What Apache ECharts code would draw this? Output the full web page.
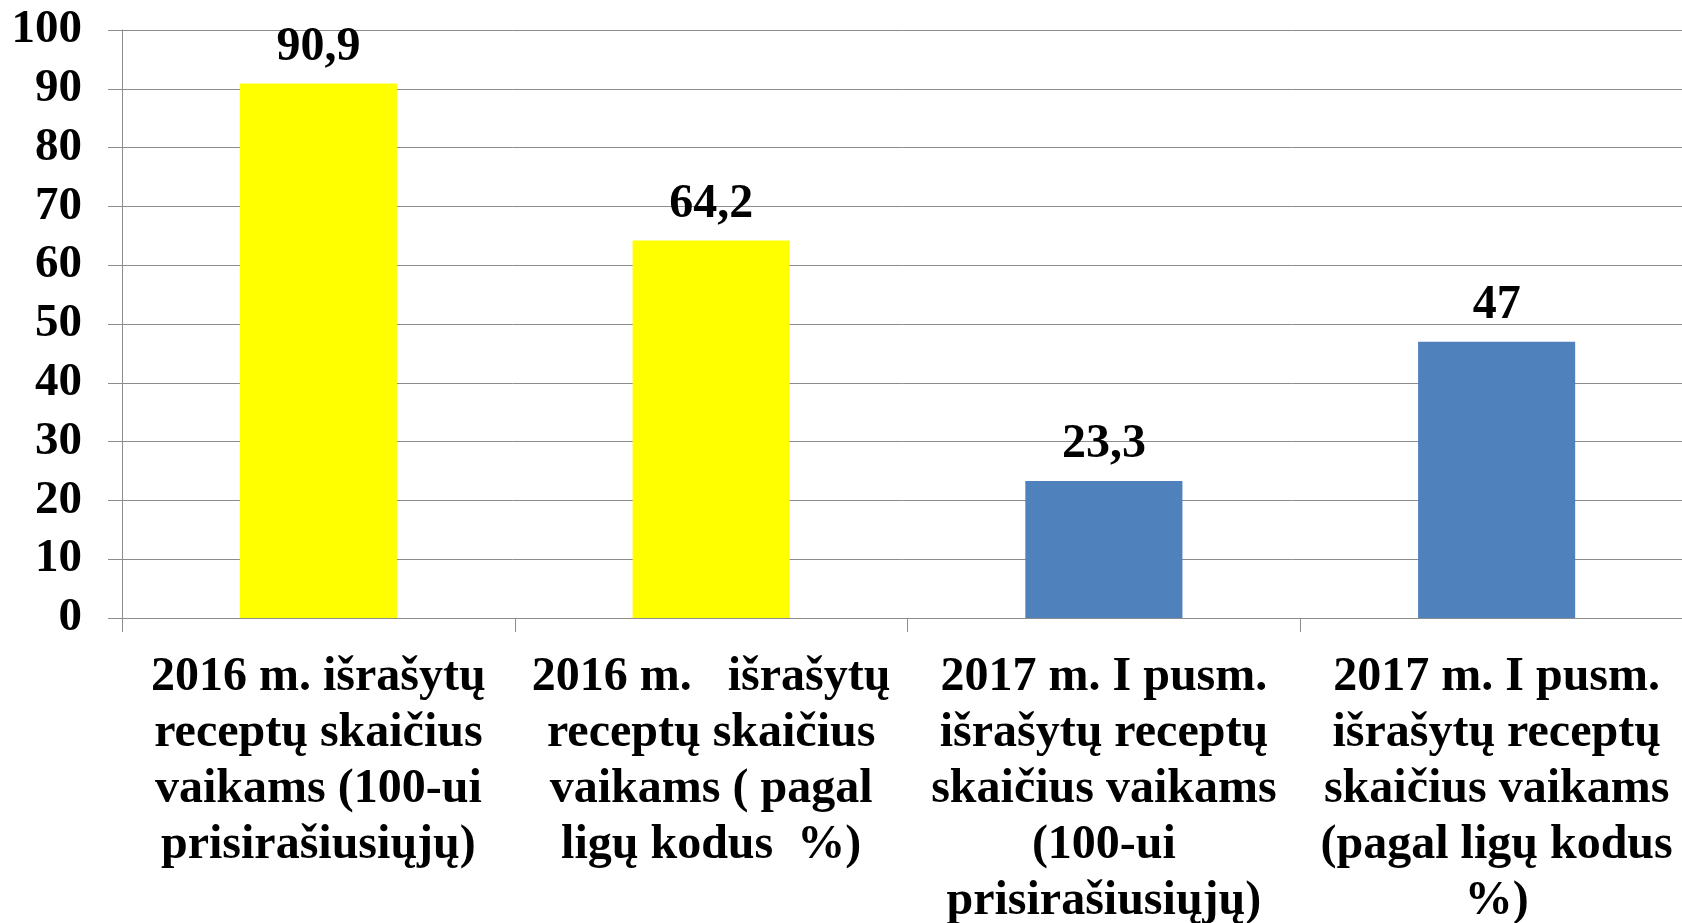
<!DOCTYPE html>
<html>
<head>
<meta charset="utf-8">
<title>Receptai vaikams</title>
<script src="https://cdn.jsdelivr.net/npm/echarts@6/dist/echarts.min.js"></script>
<style>
    html, body { margin: 0; padding: 0; background: #fff; }
    #chart { width: 1682px; height: 923px; }
</style>
</head>
<body>
<div id="chart"></div>
<script>
    'use strict';

    // data
    const categories = [
        "2016 m. išrašytų\nreceptų skaičius\nvaikams (100-ui\nprisirašiusiųjų)",
        "2016 m.   išrašytų\nreceptų skaičius\nvaikams ( pagal\nligų kodus  %)",
        "2017 m. I pusm.\nišrašytų receptų\nskaičius vaikams\n(100-ui\nprisirašiusiųjų)",
        "2017 m. I pusm.\nišrašytų receptų\nskaičius vaikams\n(pagal ligų kodus\n%)"
    ];
    const years = ["2016", "2016", "2017", "2017"];
    const values = [90.9, 64.2, 23.3, 47];
    const yTicks = [0, 10, 20, 30, 40, 50, 60, 70, 80, 90, 100];

    const FONT = "'Liberation Serif', 'Times New Roman', serif";
    const colorOf = { "2016": "#FFFF00", "2017": "#4F81BD" };
    const fmt = (v) => String(v).replace(".", ",");

    // one series per year, stacked so each bar keeps its own slot
    const series = Object.keys(colorOf).map(function (yr) {
        return {
            name: yr,
            type: "bar",
            stack: "all",
            barWidth: "40%",
            data: values.map((v, i) => years[i] === yr ? v : "-"),
            itemStyle: { color: colorOf[yr] },
            label: {
                show: true,
                position: "top",
                distance: 12,
                color: "#000",
                fontFamily: FONT,
                fontWeight: "bold",
                fontSize: 48,
                formatter: (p) => fmt(p.value)
            }
        };
    });

    const chart = echarts.init(document.getElementById("chart"));
    chart.setOption({
        backgroundColor: "#fff",
        animation: false,
        // plot runs a little past the right edge, as in the original slide
        grid: {
            left: 122, right: -11, top: 30, bottom: 305,
            containLabel: false,
            outerBoundsMode: "none"
        },
        xAxis: {
            type: "category",
            data: categories,
            axisLine: { show: true, lineStyle: { color: "#8c8c8c", width: 1 } },
            axisTick: { show: true, length: 14, lineStyle: { color: "#8c8c8c" } },
            axisLabel: {
                interval: 0,
                margin: 32,
                color: "#000",
                fontFamily: FONT,
                fontWeight: "bold",
                fontSize: 48,
                lineHeight: 56,
                align: "center"
            }
        },
        yAxis: {
            type: "value",
            min: yTicks[0],
            max: yTicks[yTicks.length - 1],
            interval: 10,
            axisLine: { show: true, lineStyle: { color: "#8c8c8c", width: 1 } },
            axisTick: { show: true, length: 14, lineStyle: { color: "#8c8c8c" } },
            splitLine: { show: true, lineStyle: { color: "#8c8c8c", width: 1 } },
            axisLabel: {
                margin: 40,
                color: "#000",
                fontFamily: FONT,
                fontWeight: "bold",
                fontSize: 47
            }
        },
        series: series
    });
</script>
</body>
</html>
